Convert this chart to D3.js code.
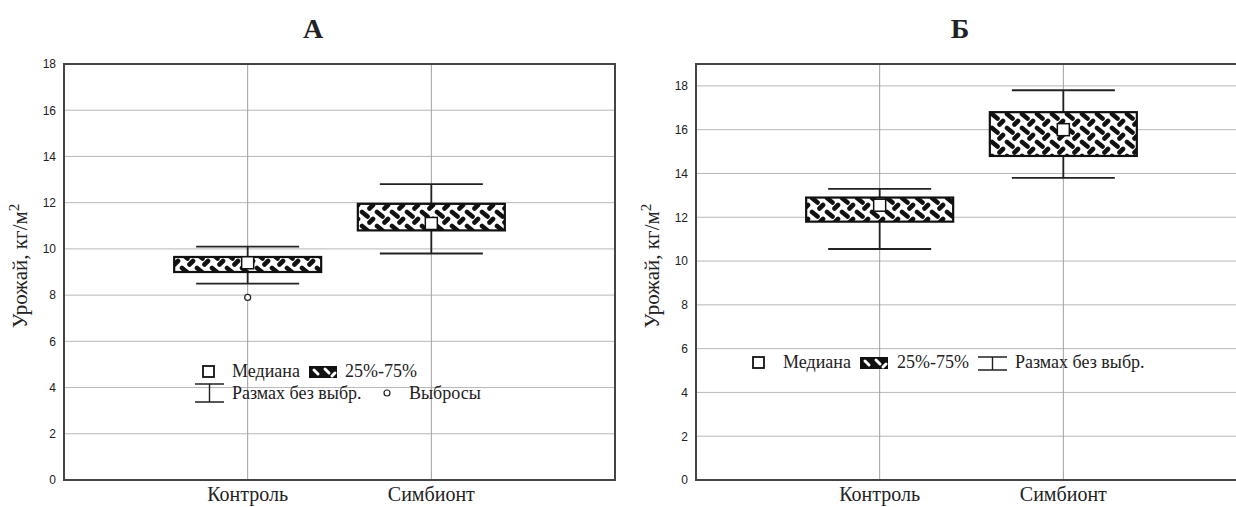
<!DOCTYPE html>
<html>
<head>
<meta charset="utf-8">
<script src="https://cdn.jsdelivr.net/npm/d3@7"></script>
<style>
  body { margin: 0; background: #fff; }
  svg { display: block; }
</style>
</head>
<body>
<svg id="chart" width="1236" height="507"></svg>
<script>
// Box plot data
const categories = ['Контроль', 'Симбионт'];

const aMin = [8.5, 9.8];
const aQ1 = [9.0, 10.8];
const aMedian = [9.4, 11.1];
const aQ3 = [9.65, 11.95];
const aMax = [10.1, 12.8];
const aOutliers = [[7.9], []];

const bMin = [10.55, 13.8];
const bQ1 = [11.8, 14.8];
const bMedian = [12.55, 16.0];
const bQ3 = [12.9, 16.8];
const bMax = [13.3, 17.8];
const bOutliers = [[], []];

const yTicks = [0, 2, 4, 6, 8, 10, 12, 14, 16, 18];

const svg = d3.select('#chart');
const serif = '"Liberation Serif", "Times New Roman", serif';
const sans = '"Liberation Sans", Arial, sans-serif';

// tread-plate fill
const defs = svg.append('defs');
const pat = defs.append('pattern')
  .attr('id', 'tread')
  .attr('patternUnits', 'userSpaceOnUse')
  .attr('width', 15).attr('height', 14);
pat.append('rect').attr('width', 15).attr('height', 14).attr('fill', '#fff');
pat.selectAll('path')
  .data(['M2,2L7.5,6.5', 'M9.5,12.5L13,9', 'M-5.5,12.5L-2,9', 'M17,2L22.5,6.5', 'M9.5,-1.5L13,-5', 'M2,16L7.5,20.5'])
  .join('path')
  .attr('d', d => d)
  .attr('stroke', '#111')
  .attr('stroke-width', 4.6)
  .attr('stroke-linecap', 'round');

function drawPanel(o) {
  const g = svg.append('g');
  const x = d3.scalePoint().domain(categories).range([o.left, o.right]).padding(1);
  const y = d3.scaleLinear().domain(o.yDomain).range([o.bottom, o.top]);

  // grid
  g.selectAll('.hgrid').data(yTicks).join('line')
    .attr('x1', o.left).attr('x2', o.right)
    .attr('y1', d => y(d)).attr('y2', d => y(d))
    .attr('stroke', '#b8b8b8').attr('stroke-width', 1);
  g.selectAll('.vgrid').data(categories).join('line')
    .attr('x1', d => x(d)).attr('x2', d => x(d))
    .attr('y1', o.top).attr('y2', o.bottom)
    .attr('stroke', '#a0a0a0').attr('stroke-width', 1);

  // y axis
  const yAxis = g.append('g')
    .attr('transform', `translate(${o.left},0)`)
    .call(d3.axisLeft(y).tickValues(yTicks).tickSize(0).tickPadding(8));
  yAxis.select('.domain').remove();
  yAxis.selectAll('text').attr('font-family', sans).attr('font-size', 12).attr('fill', '#222');

  // x labels
  g.selectAll('.xlab').data(categories).join('text')
    .attr('x', d => x(d)).attr('y', 501)
    .attr('text-anchor', 'middle')
    .attr('font-family', serif).attr('font-size', 20).attr('fill', '#222')
    .text(d => d);

  // frame
  g.append('rect')
    .attr('x', o.left).attr('y', o.top)
    .attr('width', o.right - o.left).attr('height', o.bottom - o.top)
    .attr('fill', 'none').attr('stroke', '#444').attr('stroke-width', 2);

  // y title
  const yt = g.append('text')
    .attr('transform', `translate(${o.left - 37},${(o.top + o.bottom) / 2 - 6}) rotate(-90)`)
    .attr('text-anchor', 'middle')
    .attr('font-family', serif).attr('font-size', 21).attr('fill', '#222');
  yt.append('tspan').text('Урожай, кг/м');
  yt.append('tspan').attr('dy', -8).attr('font-size', 15).text('2');

  // panel title
  g.append('text')
    .attr('x', o.titleX).attr('y', 38)
    .attr('text-anchor', 'middle')
    .attr('font-family', serif).attr('font-size', 28).attr('font-weight', 'bold').attr('fill', '#222')
    .text(o.title);

  const boxW = 147, capW = 103, sq = 12;
  const rows = categories.map((c, i) => ({
    c, min: o.min[i], q1: o.q1[i], med: o.med[i], q3: o.q3[i], max: o.max[i], out: o.out[i]
  }));
  const box = g.selectAll('.box').data(rows).join('g');

  // whiskers
  box.append('line')
    .attr('x1', d => x(d.c)).attr('x2', d => x(d.c))
    .attr('y1', d => y(d.max)).attr('y2', d => y(d.min))
    .attr('stroke', '#222').attr('stroke-width', 1.8);
  box.selectAll('.cap').data(d => [d.min, d.max].map(v => ({ c: d.c, v }))).join('line')
    .attr('x1', d => x(d.c) - capW / 2).attr('x2', d => x(d.c) + capW / 2)
    .attr('y1', d => y(d.v)).attr('y2', d => y(d.v))
    .attr('stroke', '#222').attr('stroke-width', 1.8);

  // box
  box.append('rect')
    .attr('x', d => x(d.c) - boxW / 2).attr('width', boxW)
    .attr('y', d => y(d.q3)).attr('height', d => y(d.q1) - y(d.q3))
    .attr('fill', 'url(#tread)').attr('stroke', '#111').attr('stroke-width', 2.2);

  // median
  box.append('rect')
    .attr('x', d => x(d.c) - sq / 2).attr('y', d => y(d.med) - sq / 2)
    .attr('width', sq).attr('height', sq)
    .attr('fill', '#fff').attr('stroke', '#111').attr('stroke-width', 1.5);

  // outliers
  box.selectAll('.out').data(d => d.out.map(v => ({ c: d.c, v }))).join('circle')
    .attr('cx', d => x(d.c)).attr('cy', d => y(d.v)).attr('r', 3)
    .attr('fill', '#fff').attr('stroke', '#222').attr('stroke-width', 1.2);

  return g;
}

function legendSquare(g, x, y) {
  g.append('rect').attr('x', x).attr('y', y).attr('width', 11).attr('height', 11)
    .attr('fill', '#fff').attr('stroke', '#111').attr('stroke-width', 1.8);
}
function legendSwatch(g, x, y) {
  g.append('rect').attr('x', x).attr('y', y).attr('width', 28).attr('height', 12)
    .attr('fill', '#111');
  g.append('path')
    .attr('d', `M${x + 5},${y + 4}L${x + 9},${y + 8}M${x + 16},${y + 3}L${x + 20},${y + 7}M${x + 23},${y + 10}L${x + 26},${y + 7}`)
    .attr('stroke', '#fff').attr('stroke-width', 3).attr('stroke-linecap', 'round');
}
function legendWhisker(g, x, y, h) {
  g.append('path')
    .attr('d', `M${x},${y}H${x + 29}M${x + 14.5},${y}V${y + h}M${x},${y + h}H${x + 29}`)
    .attr('fill', 'none').attr('stroke', '#222').attr('stroke-width', 1.4);
}
function legendText(g, x, y, t) {
  g.append('text').attr('x', x).attr('y', y)
    .attr('font-family', serif).attr('font-size', 18).attr('fill', '#222').text(t);
}

const gA = drawPanel({
  left: 64, right: 615, top: 64, bottom: 480, yDomain: [0, 18],
  title: 'А', titleX: 313,
  min: aMin, q1: aQ1, med: aMedian, q3: aQ3, max: aMax, out: aOutliers
});
legendSquare(gA, 203, 366);
legendText(gA, 232, 377, 'Медиана');
legendSwatch(gA, 309, 366);
legendText(gA, 345, 377, '25%-75%');
legendWhisker(gA, 195, 384, 18);
legendText(gA, 232, 399, 'Размах без выбр.');
gA.append('circle').attr('cx', 387).attr('cy', 393).attr('r', 3)
  .attr('fill', '#fff').attr('stroke', '#222').attr('stroke-width', 1.2);
legendText(gA, 409, 399, 'Выбросы');

const gB = drawPanel({
  left: 696, right: 1247, top: 64, bottom: 480, yDomain: [0, 19],
  title: 'Б', titleX: 960,
  min: bMin, q1: bQ1, med: bMedian, q3: bQ3, max: bMax, out: bOutliers
});
legendSquare(gB, 753, 357);
legendText(gB, 783, 368, 'Медиана');
legendSwatch(gB, 860, 357);
legendText(gB, 897, 368, '25%-75%');
legendWhisker(gB, 978, 357, 13);
legendText(gB, 1015, 368, 'Размах без выбр.');
</script>
</body>
</html>
